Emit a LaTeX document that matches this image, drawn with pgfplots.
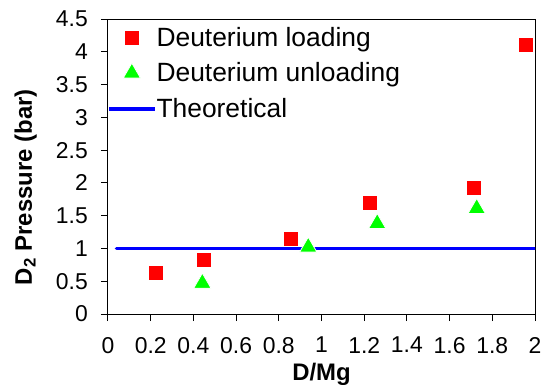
\documentclass[border=0pt]{standalone}
\usepackage{fontspec}
\setmainfont{Liberation Sans}
\usepackage{pgfplots}
\pgfplotsset{compat=1.18}
\pgfplotsset{
  markleg/.style={legend image code/.code={\pgfpathrectangle{\pgfpoint{0cm}{-0.25cm}}{\pgfpoint{1.6cm}{0.5cm}}\pgfusepath{use as bounding box}\draw[##1] plot coordinates {(0.8cm,0cm)};}},
  lineleg/.style={legend image code/.code={\pgfpathrectangle{\pgfpoint{0cm}{-0.25cm}}{\pgfpoint{1.6cm}{0.5cm}}\pgfusepath{use as bounding box}\draw[##1] (0cm,0cm) -- (1.6cm,0cm);}},
}
\begin{document}
\begin{tikzpicture}
\begin{axis}[
  scale only axis,
  width=427bp, height=295bp,
  xmin=0, xmax=2, ymin=0, ymax=4.5,
  xtick={0,0.2,0.4,0.6,0.8,1,1.2,1.4,1.6,1.8,2},
  ytick={0,0.5,1,1.5,2,2.5,3,3.5,4,4.5},
  xtick pos=left, ytick pos=left,
  tick align=outside,
  major tick length=7bp,
  axis line style={line width=1bp},
  every tick/.style={black, line width=1bp},
  /pgf/number format/assume math mode=true,
  tick label style={font=\fontsize{23}{27}\selectfont, inner sep=0pt},
  xticklabel style={yshift=-16bp},
  yticklabel style={xshift=-13bp},
  xlabel={\textbf{D/Mg}},
  ylabel={\textbf{D\textsubscript{2} Pressure (bar)}},
  label style={font=\fontsize{24}{29}\selectfont, inner sep=0pt},
  xlabel style={at={(axis description cs:0.5,-0.166)}, anchor=north},
  ylabel style={at={(axis description cs:-0.166,0.43)}, anchor=south},
  legend style={draw=none, fill=none, at={(0,1)}, anchor=north west,
    xshift=-2bp, yshift=-4bp,
    font=\fontsize{26.5}{30}\selectfont, row sep=11bp,
    /tikz/every even column/.append style={column sep=5bp}},
  legend cell align=left,
]
\coordinate (sw) at (rel axis cs:0,0);
\coordinate (ne) at (rel axis cs:1,1);
\addplot[blue, line width=3.6bp, line cap=round, forget plot] coordinates {(0.04,1) (2,1)};
\addplot[only marks, mark=square*, mark size=7.5bp, color=red, mark options={fill=red, draw=white, line width=0.8bp}, markleg]
  coordinates {(0.225,0.62) (0.451,0.82) (0.856,1.15) (1.229,1.70) (1.714,1.93) (1.956,4.10)};
\addlegendentry{Deuterium loading}
\addplot[only marks, mark=triangle*, mark size=10bp, color=green, mark options={fill=green, draw=white, line width=0.8bp}, markleg]
  coordinates {(0.442,0.47) (0.938,1.02) (1.261,1.38) (1.727,1.61)};
\addlegendentry{Deuterium unloading}
\addlegendimage{blue, line width=3.6bp, lineleg}
\addlegendentry{Theoretical}
\end{axis}
\pgfresetboundingbox
\path ([shift={(-108bp,-71bp)}]sw) rectangle ([shift={(8bp,19bp)}]ne);
\end{tikzpicture}
\end{document}
